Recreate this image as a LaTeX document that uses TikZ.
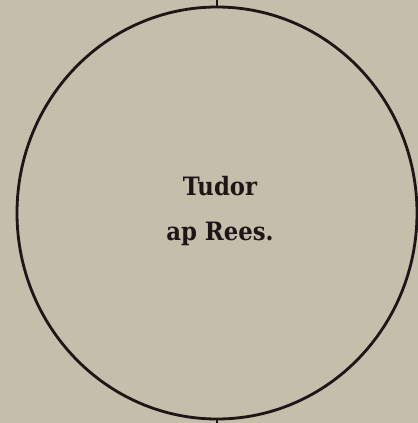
\documentclass[tikz,border=0pt]{standalone}
\usepackage{fontspec}
\setmainfont{DejaVu Serif Condensed}
\usetikzlibrary{shapes.geometric}
\definecolor{paper}{RGB}{196,190,171}
\definecolor{ink}{RGB}{28,22,22}
\tikzset{
  rim/.style={draw=ink, line width=4pt},
  tagtext/.style={text=ink, align=center, font=\bfseries\fontsize{36}{64}\selectfont},
}
\begin{document}
\begin{tikzpicture}[x=0.5mm, y=-0.5mm]
    \fill[paper] (0,0) rectangle (418,423);
    \useasboundingbox (0,0) rectangle (418,423);
    \node[rim, ellipse, minimum width=20cm, minimum height=20.6cm, inner sep=0pt] (tudor) at (217,213) {};
    \node[tagtext] (label) at (220,211) {Tudor\\ap Rees.};
    \coordinate (up) at (tudor.north |- 0,-2);
    \coordinate (down) at (tudor.south |- 0,425);
    \draw[rim] (tudor.north) -- (up);
    \draw[rim] (tudor.south) -- (down);
\end{tikzpicture}
\end{document}
